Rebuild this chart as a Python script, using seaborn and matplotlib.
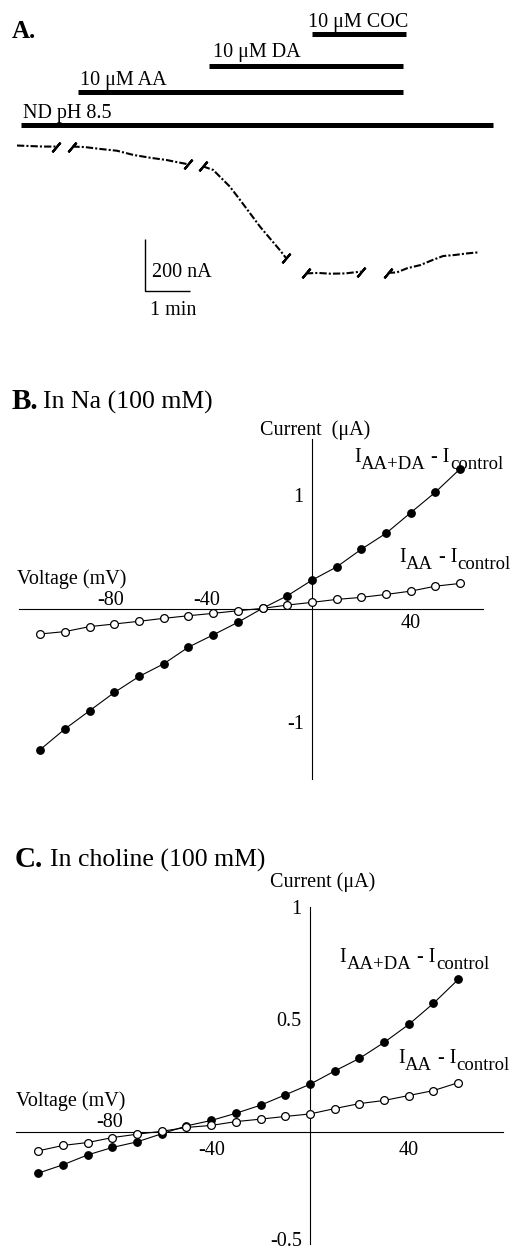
import numpy as np
import pandas as pd
import matplotlib
matplotlib.use("Agg")
import matplotlib.pyplot as plt
import matplotlib.transforms as mtransforms
import seaborn as sns

sns.set_theme(style="white")
plt.rcParams["font.family"] = ["Liberation Serif", "DejaVu Serif"]
plt.rcParams["mathtext.fontset"] = "custom"
plt.rcParams["mathtext.rm"] = "Liberation Serif"
plt.rcParams["axes.edgecolor"] = "black"
plt.rcParams["text.color"] = "black"
plt.rcParams["xtick.color"] = "black"
plt.rcParams["ytick.color"] = "black"

# ---------------- data ----------------
# Panel A: perfusion protocol (minutes)
drug_labels = ["ND pH 8.5", "10 \u03bcM AA", "10 \u03bcM DA", "10 \u03bcM COC"]
drug_start = [0.09, 1.36, 4.27, 6.56]
drug_end = [10.58, 8.58, 8.58, 8.64]

# Panel A: current trace (min, nA), recorded in segments
trace_seg = [1, 1, 1, 1,
             2, 2, 2, 2, 2, 2, 2, 2, 2,
             3, 3, 3, 3, 3, 3, 3, 3, 3, 3,
             4, 4, 4, 4, 4,
             5, 5, 5, 5, 5, 5, 5, 5, 5]
trace_t = [0.00, 0.29, 0.58, 0.87,
           1.23, 1.51, 1.84, 2.22, 2.58, 2.96, 3.33, 3.56, 3.80,
           4.13, 4.36, 4.51, 4.73, 4.96, 5.18, 5.40, 5.62, 5.84, 5.98,
           6.42, 6.69, 6.96, 7.29, 7.64,
           8.24, 8.44, 8.67, 8.96, 9.24, 9.47, 9.73, 10.00, 10.24]
trace_i = [-2, -4, -6, -6,
           -6, -8, -15, -22, -38, -49, -58, -66, -74,
           -82, -96, -122, -160, -212, -263, -314, -359, -404, -435,
           -494, -492, -495, -494, -487,
           -492, -490, -474, -462, -442, -427, -423, -417, -413]

# Panels B and C: I-V relations
voltage_mV = [-110, -100, -90, -80, -70, -60, -50, -40, -30,
              -20, -10, 0, 10, 20, 30, 40, 50, 60]
na_aa_da = [-1.243, -1.061, -0.900, -0.739, -0.598, -0.486, -0.339, -0.231, -0.120,
            0.004, 0.114, 0.252, 0.369, 0.525, 0.666, 0.848, 1.029, 1.235]
na_aa = [-0.223, -0.202, -0.158, -0.135, -0.111, -0.085, -0.062, -0.041, -0.018,
         0.003, 0.032, 0.056, 0.082, 0.100, 0.126, 0.155, 0.199, 0.223]
cho_aa_da = [-0.185, -0.148, -0.104, -0.071, -0.046, -0.010, 0.025, 0.049, 0.081,
             0.117, 0.163, 0.210, 0.269, 0.325, 0.396, 0.476, 0.570, 0.676]
cho_aa = [-0.086, -0.062, -0.049, -0.027, -0.012, 0.001, 0.018, 0.027, 0.044,
          0.055, 0.067, 0.078, 0.102, 0.124, 0.138, 0.160, 0.182, 0.217]

# ---------------- layout ----------------
W, H = 521, 1253
fig = plt.figure(figsize=(W / 100, H / 100), dpi=100)
fig.patch.set_facecolor("white")
FS = 14.5


def px_axes(left, top, right, bottom):
    return fig.add_axes([left / W, 1 - bottom / H, (right - left) / W, (bottom - top) / H])


def ftext(xp, yp, s, **kw):
    fig.text(xp / W, 1 - yp / H, s, va="baseline", ha="left", **kw)


# ---------- Panel A ----------
A_T0, A_TS = 17.0, 45.0         # px of t=0, px per minute
A_I0, A_IS = 145.0, 52.0 / 200  # px of 0 nA, px per nA
axA = px_axes(0, 0, W, 320)
axA.set_xlim((0 - A_T0) / A_TS, (W - A_T0) / A_TS)
axA.set_ylim((A_I0 - 320) / A_IS, (A_I0 - 0) / A_IS)
axA.axis("off")


def a_t(xp):
    return (xp - A_T0) / A_TS


def a_i(yp):
    return (A_I0 - yp) / A_IS


bar_y_px = [125, 92, 66, 34]
lab_x_px = [23, 80, 213, 308]
lab_y_px = [118.3, 85, 56.7, 27.3]
for lab, s, e, by, lx, ly in zip(drug_labels, drug_start, drug_end, bar_y_px, lab_x_px, lab_y_px):
    axA.hlines(a_i(by), s, e, color="black", lw=3.6)
    axA.text(a_t(lx), a_i(ly), lab, fontsize=FS, va="baseline", ha="left")

df_trace = pd.DataFrame({"t": trace_t, "I": trace_i, "seg": trace_seg})
sns.lineplot(data=df_trace, x="t", y="I", units="seg", estimator=None, ax=axA,
             color="black", lw=1.5, linestyle=(0, (3.5, 1.0, 1.0, 1.0)), legend=False)
# break marks at the perfusion gaps
segs = sorted(df_trace["seg"].unique())
for k, sg in enumerate(segs):
    sub = df_trace[df_trace["seg"] == sg]
    ends = []
    if k > 0:
        ends.append(sub.iloc[0])
    if k < len(segs) - 1:
        ends.append(sub.iloc[-1])
    for r in ends:
        axA.plot(r["t"], r["I"], marker=(2, 2, -40), ms=9, mew=1.6, color="black", ls="none")

# scale bar: 200 nA, 1 min
sb_t, sb_i = a_t(145), a_i(290.5)
axA.plot([sb_t, sb_t, sb_t + 1.0], [sb_i + 200, sb_i, sb_i], color="black", lw=1.0,
         solid_capstyle="butt")
axA.text(a_t(152), a_i(276.7), "200 nA", fontsize=FS, va="baseline", ha="left")
axA.text(a_t(150), a_i(315), "1 min", fontsize=FS, va="baseline", ha="left")

ftext(12, 38, "A.", fontsize=18, fontweight="bold")


# ---------- helpers for IV panels ----------
def iv_axes(x0, xs, xlim, y0, ys, ylim, yticks, yticklabels):
    left = x0 + xlim[0] * xs
    right = x0 + xlim[1] * xs
    top = y0 - ylim[1] * ys
    bottom = y0 - ylim[0] * ys
    ax = px_axes(left, top, right, bottom)
    ax.set_facecolor("none")
    ax.set_xlim(*xlim)
    ax.set_ylim(*ylim)
    for s in ["top", "right"]:
        ax.spines[s].set_visible(False)
    for s in ["left", "bottom"]:
        ax.spines[s].set_position(("data", 0))
        ax.spines[s].set_linewidth(0.8)
        ax.spines[s].set_color("black")
    ax.set_xticks([-80, -40, 40])
    ax.set_xticklabels([])
    ax.tick_params(axis="x", direction="inout", length=6, width=0.8)
    ax.set_yticks(yticks)
    ax.set_yticklabels(yticklabels, fontsize=FS)
    ax.tick_params(axis="y", direction="out", length=4, width=0.8, pad=2)
    ax.set_xlabel("")
    ax.set_ylabel("")
    ax.grid(False)
    return ax


def iv_series(ax, v, i, filled):
    sns.lineplot(x=v, y=i, ax=ax, color="black", lw=0.8, marker="o",
                 ms=5.4 if filled else 5.6,
                 markerfacecolor="black" if filled else "white",
                 markeredgecolor="black", markeredgewidth=0.9, legend=False,
                 zorder=3 if filled else 4)


def sub_label(ax, x, y, parts, fs=FS, fs_sub=13.5, drop=4.5):
    prev = ax.text(x, y, parts[0][0], fontsize=fs, va="baseline", ha="left")
    prev_sub = parts[0][1]
    for s, is_sub in parts[1:]:
        dy = 0
        if is_sub and not prev_sub:
            dy = -drop
        elif (not is_sub) and prev_sub:
            dy = drop
        prev = ax.annotate(s, xy=(1, 0), xycoords=prev, xytext=(0.4, dy),
                           textcoords="offset points", fontsize=fs_sub if is_sub else fs,
                           va="bottom", ha="left")
        prev_sub = is_sub


LAB_AADA = [("I", False), ("AA+DA", True), (" - I", False), ("control", True)]
LAB_AA = [("I", False), ("AA", True), (" - I", False), ("control", True)]

# ---------- Panel B ----------
axB = iv_axes(312, 2.47, (-118.6, 69.2), 608.7, 113.3, (-1.5, 1.5),
              [-1.0, -0.5, 0.5, 1.0], ["-1", "", "", "1"])
iv_series(axB, voltage_mV, na_aa, False)
iv_series(axB, voltage_mV, na_aa_da, True)
axB.text(1.2, 1.535, "Current  (\u03bcA)", fontsize=FS, ha="center", va="baseline")
axB.text(-119.4, 0.215, "Voltage (mV)", fontsize=FS, ha="left", va="baseline")
for v, lab, above in [(-81.5, "-80", True), (-42.5, "-40", True), (40, "40", False)]:
    axB.annotate(lab, xy=(v, 0), xytext=(0, -0.6 if above else -4.0), textcoords="offset points",
                 ha="center", va="bottom" if above else "top", fontsize=FS)
sub_label(axB, 17.0, 1.297, LAB_AADA)
sub_label(axB, 35.2, 0.415, LAB_AA)
ftext(12, 409, "B.", fontsize=21, fontweight="bold")
ftext(43, 409, "In Na (100 mM)", fontsize=18.5)

# ---------- Panel C ----------
axC = iv_axes(310, 2.47, (-119.0, 78.0), 1131.5, 224.9, (-0.5, 1.0),
              [-0.5, 0.5, 1.0], ["-0.5", "0.5", "1"])
for lbl in axC.get_yticklabels():
    if lbl.get_text() == "-0.5":
        lbl.set_va("bottom")
        lbl.set_transform(lbl.get_transform() +
                          mtransforms.ScaledTranslation(0, -7.5 / 100, fig.dpi_scale_trans))
iv_series(axC, voltage_mV, cho_aa, False)
iv_series(axC, voltage_mV, cho_aa_da, True)
axC.text(5.0, 1.088, "Current (\u03bcA)", fontsize=FS, ha="center", va="baseline")
axC.text(-119.0, 0.112, "Voltage (mV)", fontsize=FS, ha="left", va="baseline")
for v, lab, above in [(-81.2, "-80", True), (-39.8, "-40", False), (40, "40", False)]:
    axC.annotate(lab, xy=(v, 0), xytext=(0, -0.6 if above else -7.0), textcoords="offset points",
                 ha="center", va="bottom" if above else "top", fontsize=FS)
sub_label(axC, 11.9, 0.755, LAB_AADA)
sub_label(axC, 35.6, 0.305, LAB_AA)
ftext(15, 867, "C.", fontsize=21, fontweight="bold")
ftext(50, 867, "In choline (100 mM)", fontsize=18.5)

fig.savefig("out.png", dpi=100, facecolor="white")
